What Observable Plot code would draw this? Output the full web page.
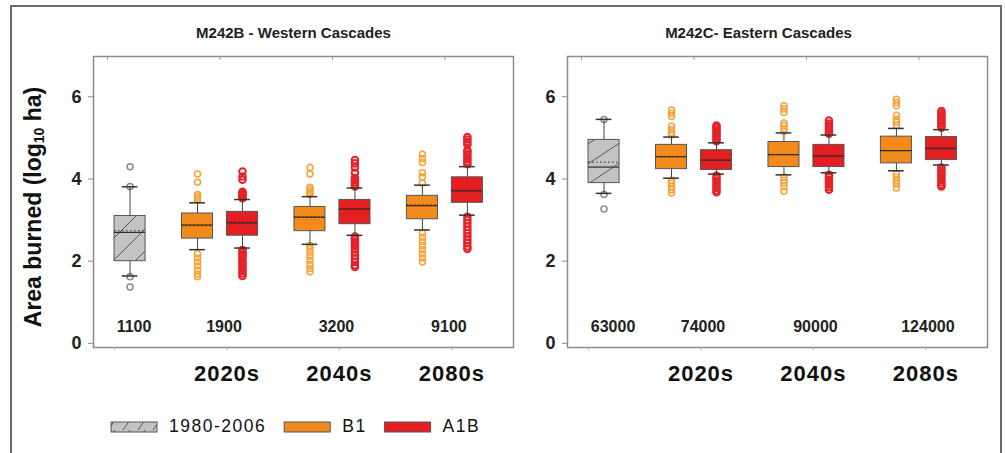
<!DOCTYPE html>
<html><head><meta charset="utf-8">
<script src="https://cdn.jsdelivr.net/npm/d3@7"></script>
<script src="https://cdn.jsdelivr.net/npm/@observablehq/plot@0.6"></script>
<style>
body{margin:0;background:#fff;}
#root{position:relative;width:1005px;height:453px;overflow:hidden;font-family:"Liberation Sans",Arial,sans-serif;background:#fff;}
#frame{position:absolute;left:10px;top:5px;width:988px;height:470px;border:2px solid #6b6b6b;}
.panel{position:absolute;top:0;}
#legend{position:absolute;left:0;top:410px;}
</style></head><body><div id="root"><div id="frame"></div></div>
<script>
// ---------- data ----------
const groupTicks = [0, 1, 2, 3];
const decadeLabels = ["", "2020s", "2040s", "2080s"];
const seriesNames = ["1980-2006", "B1", "A1B"];
const boxFills = ["#c3c3c4", "#f28a1c", "#e41f22"];
const outlierColors = ["#8a8a8a", "#f5a23a", "#e52228"];
const boxGroup = [0, 1, 1, 2, 2, 3, 3];
const boxSeries = ["1980-2006", "B1", "A1B", "B1", "A1B", "B1", "A1B"];

// M242B - Western Cascades
const westTitle = "M242B - Western Cascades";
const westTotals = ["1100", "1900", "3200", "9100"];
const westLow    = [1.64, 2.28, 2.32, 2.41, 2.63, 2.76, 3.12];
const westQ1     = [2.00, 2.55, 2.62, 2.73, 2.90, 3.02, 3.42];
const westMedian = [2.70, 2.88, 2.93, 3.07, 3.27, 3.35, 3.71];
const westMean   = [2.74, 2.86, 2.95, 3.08, 3.26, 3.37, 3.72];
const westQ3     = [3.10, 3.16, 3.20, 3.32, 3.49, 3.59, 4.04];
const westHigh   = [3.81, 3.42, 3.50, 3.57, 3.78, 3.85, 4.30];
const westOutliers = [
  [4.30, 3.82, 1.62, 1.37],
  [3.48, 3.53, 3.58, 3.62, 3.92, 4.12, 2.18, 2.08, 1.98, 1.88, 1.78, 1.68, 1.62],
  [3.53, 3.57, 3.61, 3.65, 3.69, 3.98, 4.06, 4.18, 2.27, 2.22, 2.17, 2.12, 2.06, 2.00, 1.94, 1.88, 1.82, 1.76, 1.70, 1.64],
  [3.62, 3.66, 3.70, 3.75, 3.80, 4.12, 4.28, 2.38, 2.30, 2.22, 2.12, 2.02, 1.92, 1.82, 1.74],
  [3.82, 3.87, 3.92, 3.97, 4.02, 4.15, 4.28, 4.38, 4.46, 2.60, 2.54, 2.48, 2.42, 2.36, 2.30, 2.22, 2.14, 2.06, 1.98, 1.90, 1.86],
  [3.90, 4.05, 4.15, 4.40, 4.50, 4.60, 2.68, 2.58, 2.48, 2.38, 2.28, 2.18, 2.08, 1.98],
  [4.36, 4.42, 4.48, 4.54, 4.60, 4.66, 4.70, 4.84, 4.90, 4.96, 5.02, 3.08, 3.00, 2.92, 2.84, 2.76, 2.68, 2.60, 2.52, 2.44, 2.36, 2.30]
];

// M242C - Eastern Cascades
const eastTitle = "M242C- Eastern Cascades";
const eastTotals = ["63000", "74000", "90000", "124000"];
const eastLow    = [3.65, 4.02, 4.12, 4.10, 4.15, 4.20, 4.34];
const eastQ1     = [3.90, 4.24, 4.22, 4.29, 4.29, 4.38, 4.46];
const eastMedian = [4.29, 4.54, 4.46, 4.59, 4.56, 4.69, 4.75];
const eastMean   = [4.41, 4.55, 4.45, 4.60, 4.56, 4.69, 4.73];
const eastQ3     = [4.95, 4.83, 4.70, 4.90, 4.83, 5.03, 5.02];
const eastHigh   = [5.45, 5.02, 4.88, 5.12, 5.07, 5.23, 5.20];
const eastOutliers = [
  [5.45, 3.62, 3.27],
  [5.07, 5.12, 5.20, 5.28, 5.52, 5.60, 5.68, 3.97, 3.90, 3.82, 3.74, 3.66],
  [4.92, 4.97, 5.02, 5.07, 5.12, 5.17, 5.22, 5.27, 5.30, 4.08, 4.02, 3.96, 3.90, 3.84, 3.78, 3.72, 3.68],
  [5.16, 5.22, 5.30, 5.36, 5.62, 5.70, 5.78, 4.05, 3.97, 3.90, 3.82, 3.70],
  [5.10, 5.15, 5.20, 5.25, 5.30, 5.35, 5.42, 4.10, 4.04, 3.98, 3.92, 3.86, 3.80, 3.74],
  [5.30, 5.38, 5.45, 5.55, 5.78, 5.86, 5.94, 4.12, 4.04, 3.96, 3.88, 3.78],
  [5.25, 5.30, 5.35, 5.40, 5.45, 5.50, 5.55, 5.60, 5.65, 4.28, 4.22, 4.16, 4.10, 4.04, 3.98, 3.92, 3.86, 3.82]
];

// ---------- layout ----------
const seriesOffset = {"1980-2006": 0.2, "B1": -0.2, "A1B": 0.2};
const boxHalf = 0.138, capHalf = 0.07;
const FONT = "Liberation Sans, Arial, sans-serif";

function buildBoxes(low, q1, med, mean, q3, high) {
  return boxGroup.map((g, i) => ({
    x: g + seriesOffset[boxSeries[i]], series: boxSeries[i],
    lo: low[i], q1: q1[i], med: med[i], mean: mean[i], q3: q3[i], hi: high[i]
  }));
}
function buildPoints(boxes, outs) {
  const pts = [];
  outs.forEach((arr, i) => arr.forEach(v => pts.push({x: boxes[i].x, y: v, series: boxes[i].series})));
  return pts;
}

function panel({title, titleDx, totals, totalsDx, boxes, points, hatchId, hw, hh}) {
  const totalRows = totals.map((t, g) => ({x: g === 0 ? g + seriesOffset["1980-2006"] : g, t}));
  const marks = [
    Plot.frame({stroke: "#8c8c8c", strokeWidth: 1.5}),
    Plot.axisY({ticks: [0, 2, 4, 6], tickSize: 5, tickPadding: 7, fontSize: 18, fontWeight: "bold", stroke: "#888", fill: "#222", label: null}),
    Plot.axisX({anchor: "bottom", ticks: groupTicks, tickSize: 3, tickPadding: 15, tickFormat: d => decadeLabels[d], fontSize: 22, fontWeight: "bold", dx: 7, stroke: "#aaa", fill: "#111", label: null}),
    Plot.axisX({anchor: "top", ticks: groupTicks, tickSize: -3, tickFormat: () => "", stroke: "#999", label: null}),
    Plot.text([title], {frameAnchor: "top", dy: -23, dx: titleDx, lineAnchor: "middle", fontSize: 15, fontWeight: "bold", fill: "#222"}),
    Plot.text(totalRows, {x: "x", y: () => 0.41, text: "t", dx: totalsDx, fontSize: 16, fontWeight: "bold", fill: "#222", lineAnchor: "middle"})
  ];
  seriesNames.forEach((s, k) => {
    marks.push(Plot.dot(points.filter(p => p.series === s), {x: "x", y: "y", r: k === 2 ? 3.3 : 3, stroke: outlierColors[k], strokeWidth: k === 2 ? 2 : 1.5, fill: "none"}));
  });
  marks.push(
    Plot.ruleX(boxes, {x: "x", y1: "lo", y2: "q1", stroke: "#444"}),
    Plot.ruleX(boxes, {x: "x", y1: "q3", y2: "hi", stroke: "#444"}),
    Plot.ruleY(boxes, {y: "lo", x1: d => d.x - capHalf, x2: d => d.x + capHalf, stroke: "#333", strokeWidth: 1.5}),
    Plot.ruleY(boxes, {y: "hi", x1: d => d.x - capHalf, x2: d => d.x + capHalf, stroke: "#333", strokeWidth: 1.5})
  );
  seriesNames.forEach((s, k) => {
    marks.push(Plot.rect(boxes.filter(b => b.series === s), {x1: d => d.x - boxHalf, x2: d => d.x + boxHalf, y1: "q1", y2: "q3", fill: boxFills[k], stroke: "#555", strokeWidth: 1}));
  });
  marks.push(
    Plot.ruleY(boxes, {y: "med", x1: d => d.x - boxHalf, x2: d => d.x + boxHalf, stroke: "#3a2a20", strokeWidth: 1.2}),
    Plot.ruleY(boxes, {y: "mean", x1: d => d.x - boxHalf, x2: d => d.x + boxHalf, stroke: "#2a2a2a", strokeWidth: 1, strokeDasharray: "1.5,2.5"})
  );
  const svg = Plot.plot({
    width: 520, height: 400,
    marginLeft: 93, marginRight: 7, marginTop: 56, marginBottom: 53,
    x: {domain: [-0.125, 3.61]},
    y: {domain: [-0.1, 6.98]},
    style: {fontFamily: FONT, background: "transparent", color: "#222", overflow: "visible"},
    marks
  });
  const s = d3.select(svg);
  // apply hatching to the historical boxes (fill set on group or on rects)
  s.selectAll('[fill="' + boxFills[0] + '"]').attr("fill", `url(#${hatchId})`);
  const pat = s.insert("defs", ":first-child").append("pattern")
    .attr("id", hatchId).attr("patternUnits", "userSpaceOnUse").attr("width", hw).attr("height", hh);
  pat.append("rect").attr("width", hw).attr("height", hh).attr("fill", "#c3c3c3");
  pat.append("path").attr("d", `M0,${hh} L${hw},0 M${-hw},${hh} L0,0 M${hw},${hh} L${2*hw},0`).attr("stroke", "#555").attr("stroke-width", 1);
  s.selectAll('g[aria-label="x-axis tick label"] text').style("letter-spacing", "1px");
  return svg;
}

const westBoxes = buildBoxes(westLow, westQ1, westMedian, westMean, westQ3, westHigh);
const eastBoxes = buildBoxes(eastLow, eastQ1, eastMedian, eastMean, eastQ3, eastHigh);

const root = document.getElementById("root");
const left = panel({title: westTitle, titleDx: -10, totals: westTotals, totalsDx: 4, boxes: westBoxes, points: buildPoints(westBoxes, westOutliers), hatchId: "hatchW", hw: 22, hh: 22});
left.classList.add("panel"); left.style.left = "0px";
root.appendChild(left);
const right = panel({title: eastTitle, titleDx: -19, totals: eastTotals, totalsDx: 9, boxes: eastBoxes, points: buildPoints(eastBoxes, eastOutliers), hatchId: "hatchE", hw: 30, hh: 20});
right.classList.add("panel"); right.style.left = "474px";
root.appendChild(right);

// y-axis title with subscript
const yl = d3.select(left).append("text")
  .attr("transform", "translate(35,207) rotate(-90)")
  .attr("text-anchor", "middle").attr("dominant-baseline", "middle")
  .attr("font-family", FONT).attr("font-weight", "bold").attr("font-size", 23).attr("fill", "#111");
yl.append("tspan").text("Area burned (log");
yl.append("tspan").attr("font-size", 14).attr("dy", 5).text("10");
yl.append("tspan").attr("dy", -5).text(" ha)");

// legend
const lg = d3.select(root).append("svg").attr("id", "legend").attr("width", 520).attr("height", 34);
const lp = lg.append("defs").append("pattern").attr("id", "hatchL").attr("patternUnits", "userSpaceOnUse").attr("width", 15).attr("height", 10);
lp.append("rect").attr("width", 15).attr("height", 10).attr("fill", "#c3c3c3");
lp.append("path").attr("d", "M3,10 L10,0").attr("stroke", "#555").attr("stroke-width", 1);
let cx = 111;
seriesNames.forEach((s, k) => {
  lg.append("rect").attr("x", cx).attr("y", 12).attr("width", 46).attr("height", 10)
    .attr("fill", k === 0 ? "url(#hatchL)" : boxFills[k]).attr("stroke", "#555");
  const t = lg.append("text").attr("x", cx + 58).attr("y", 17).attr("dominant-baseline", "middle")
    .attr("font-family", FONT).attr("font-size", 17.5).attr("fill", "#111").style("letter-spacing", "1.5px").text(s);
  cx = cx + 58 + t.node().getComputedTextLength() + 18;
});
</script></body></html>
